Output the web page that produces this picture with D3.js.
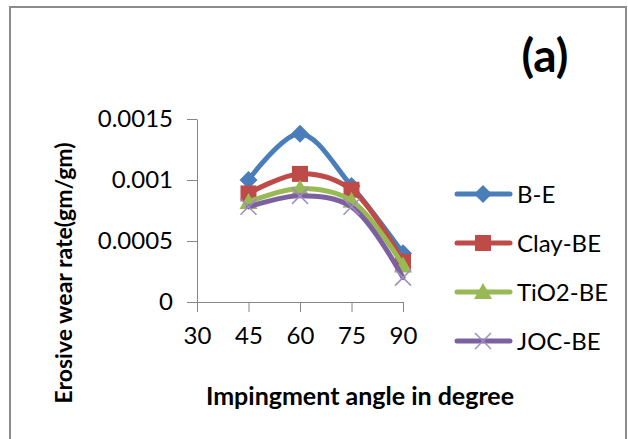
<!DOCTYPE html>
<html>
<head>
<meta charset="utf-8">
<script src="https://cdn.jsdelivr.net/npm/d3@7"></script>
<style>
  body { margin: 0; background: #fff; }
  text { font-family: Lato, "Open Sans", sans-serif; fill: #000; }
</style>
</head>
<body>
<script>
// Chart data
var angles = [45, 60, 75, 90];
var xTicks = [30, 45, 60, 75, 90];
var yTicks = [0, 0.0005, 0.001, 0.0015];
var yTickLabels = ["0", "0.0005", "0.001", "0.0015"];
var seriesNames = ["B-E", "Clay-BE", "TiO2-BE", "JOC-BE"];
var beValues = [0.001, 0.00138, 0.00095, 0.0004];
var clayValues = [0.00089, 0.00105, 0.00092, 0.00033];
var tioValues = [0.00082, 0.00093, 0.00083, 0.0003];
var jocValues = [0.00078, 0.00087, 0.00078, 0.0002];

var width = 628, height = 439;
var colors = ["#4a7ebb", "#be4b48", "#98b954", "#7d60a0"];
var markers = ["diamond", "square", "triangle", "cross"];
var allValues = [beValues, clayValues, tioValues, jocValues];

var svg = d3.select("body").append("svg")
  .attr("width", width)
  .attr("height", height);

// outer frame
svg.append("rect")
  .attr("x", 10).attr("y", 7)
  .attr("width", 616).attr("height", 450)
  .attr("fill", "none")
  .attr("stroke", "#8c8c8c")
  .attr("stroke-width", 2);

var x = d3.scaleLinear().domain([30, 90]).range([197, 403]);
var y = d3.scaleLinear().domain([0, 0.0015]).range([302, 119]);

// axes
var xAxis = svg.append("g")
  .attr("transform", "translate(0," + y(0) + ")")
  .call(d3.axisBottom(x).tickValues(xTicks).tickSize(10).tickPadding(12).tickSizeOuter(0));
var yAxis = svg.append("g")
  .attr("transform", "translate(" + x(30) + ",0)")
  .call(d3.axisLeft(y).tickValues(yTicks).tickSize(10).tickPadding(14).tickSizeOuter(0)
    .tickFormat(function(d, i) { return yTickLabels[i]; }));

[xAxis, yAxis].forEach(function(a) {
  a.select(".domain").attr("stroke", "#868686");
  a.selectAll(".tick line").attr("stroke", "#868686");
  a.selectAll(".tick text")
    .style("font-size", "24px")
    .style("font-family", "Lato, sans-serif")
    .attr("fill", "#000");
});
xAxis.selectAll(".tick text").attr("dy", "0.85em");

var line = d3.line()
  .x(function(d) { return x(d[0]); })
  .y(function(d) { return y(d[1]); })
  .curve(d3.curveCatmullRom.alpha(0.5));

function drawMarker(g, type, color, cx, cy) {
  if (type === "diamond") {
    g.append("path")
      .attr("d", "M" + cx + "," + (cy - 9) + "L" + (cx + 9) + "," + cy + "L" + cx + "," + (cy + 9) + "L" + (cx - 9) + "," + cy + "Z")
      .attr("fill", color);
  } else if (type === "square") {
    g.append("rect")
      .attr("x", cx - 8).attr("y", cy - 8)
      .attr("width", 16).attr("height", 16)
      .attr("fill", color);
  } else if (type === "triangle") {
    g.append("path")
      .attr("d", "M" + cx + "," + (cy - 9) + "L" + (cx + 9) + "," + (cy + 7) + "L" + (cx - 9) + "," + (cy + 7) + "Z")
      .attr("fill", color);
  } else {
    g.append("path")
      .attr("d", "M" + (cx - 8) + "," + (cy - 8) + "L" + (cx + 8) + "," + (cy + 8) + "M" + (cx + 8) + "," + (cy - 8) + "L" + (cx - 8) + "," + (cy + 8))
      .attr("stroke", "#a08cc0")
      .attr("stroke-width", 1.5)
      .attr("fill", "none");
  }
}

allValues.forEach(function(vals, i) {
  var pts = angles.map(function(a, j) { return [a, vals[j]]; });
  var g = svg.append("g");
  g.append("path")
    .datum(pts)
    .attr("d", line)
    .attr("fill", "none")
    .attr("stroke", colors[i])
    .attr("stroke-width", 5)
    .attr("stroke-linecap", "round");
  pts.forEach(function(p) {
    drawMarker(g, markers[i], colors[i], x(p[0]), y(p[1]));
  });
});

// legend
var legendY = [194, 243, 292, 341];
seriesNames.forEach(function(name, i) {
  var g = svg.append("g");
  g.append("line")
    .attr("x1", 457).attr("x2", 510)
    .attr("y1", legendY[i]).attr("y2", legendY[i])
    .attr("stroke", colors[i])
    .attr("stroke-width", 5)
    .attr("stroke-linecap", "round");
  drawMarker(g, markers[i], colors[i], 483, legendY[i]);
  g.append("text")
    .attr("x", 517).attr("y", legendY[i])
    .attr("dy", "0.36em")
    .style("font-size", "24px")
    .text(name);
});

// titles
svg.append("text")
  .attr("x", 545).attr("y", 55)
  .attr("dy", "0.36em")
  .attr("text-anchor", "middle")
  .style("font-size", "46px")
  .style("font-weight", "bold")
  .text("(a)");

svg.append("text")
  .attr("x", 360).attr("y", 396)
  .attr("dy", "0.36em")
  .attr("text-anchor", "middle")
  .style("font-size", "25px")
  .style("font-weight", "bold")
  .text("Impingment angle in degree");

svg.append("text")
  .attr("transform", "translate(64,273) rotate(-90)")
  .attr("dy", "0.36em")
  .attr("text-anchor", "middle")
  .style("font-size", "23px")
  .style("font-weight", "bold")
  .text("Erosive wear rate(gm/gm)");
</script>
</body>
</html>
